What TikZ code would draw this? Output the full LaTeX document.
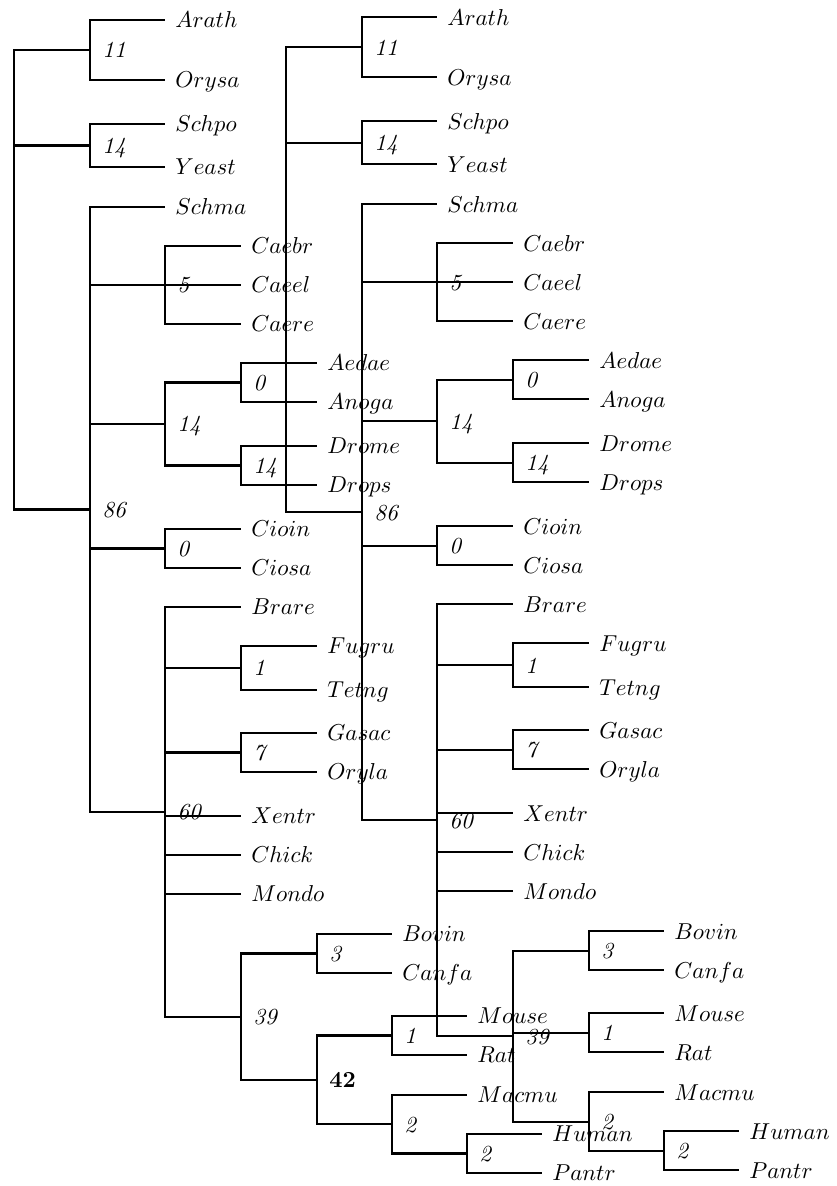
\documentclass[tikz,border=0pt]{standalone}
\tikzset{
  branch/.style={line width=0.9pt},
  tag/.style={anchor=base west, inner sep=0pt, xshift=5.2pt, yshift=-3.4pt},
  taxon/.style={tag, xshift=-0.9pt},
  support/.style={tag, font=\itshape},
}
\begin{document}
\begin{tikzpicture}[x=0.4348pt, y=-0.4348pt]
\useasboundingbox (0,0) rectangle (837,1186);
% inner nodes, first tree
\foreach \n/\x/\y in {root/14/279.5, 11/90/50, 14a/90/145.5, 86/90/509.5, 5/165/285, 14b/165/424,
  0a/241/382.5, 14c/241/465.5, 0b/165/548.5, 60/165/812, 1a/241/668, 7/241/752.5,
  39/241/1016.6, 3/317/953.5, 42/317/1079.8, 1b/392/1035.5, 2a/392/1124.3, 2b/467/1153.5}
  \coordinate (L\n) at (\x,\y);
% inner nodes, second tree
\begin{scope}[shift={(272,-2.7)}]
\foreach \n/\x/\y in {root/14/282.5, 11/90/50, 14a/90/145.5, 86/90/515, 5/165/285, 14b/165/424,
  0a/241/382.5, 14c/241/465.5, 0b/165/548.5, 60/165/823, 1a/241/668, 7/241/752.5,
  39/241/1038.9, 3/317/953.5, 1b/317/1035.5, 2a/317/1124.3, 2b/392/1153.5}
  \coordinate (R\n) at (\x,\y);
\end{scope}
\foreach \t in {L,R}
  \foreach \p/\c in {root/11, root/14a, root/86, 86/5, 86/14b, 86/0b, 86/60, 14b/0a, 14b/14c,
    60/1a, 60/7, 60/39, 39/3, 2a/2b}
    \draw[branch] (\t\p) |- (\t\c);
\foreach \p/\c in {L39/L42, L42/L1b, L42/L2a, R39/R1b, R39/R2a}
  \draw[branch] (\p) |- (\c);
% leaves
\foreach \n/\p/\xl/\xr/\y in {Arath/11/165/165/20, Orysa/11/165/165/80, Schpo/14a/165/165/124,
  Yeast/14a/165/165/167, Schma/86/165/165/207, Caebr/5/241/241/246, Caeel/5/241/241/285,
  Caere/5/241/241/324, Aedae/0a/317/317/363, Anoga/0a/317/317/402, Drome/14c/317/317/446,
  Drops/14c/317/317/485, Cioin/0b/241/241/529, Ciosa/0b/241/241/568, Brare/60/241/241/607,
  Fugru/1a/317/317/646, Tetng/1a/317/317/690, Gasac/7/317/317/733, Oryla/7/317/317/772,
  Xentr/60/241/241/816, Chick/60/241/241/855, Mondo/60/241/241/894, Bovin/3/392/392/934,
  Canfa/3/392/392/973, Mouse/1b/467/392/1016, Rat/1b/467/392/1055, Macmu/2a/467/392/1095,
  Human/2b/542/467/1134, Pantr/2b/542/467/1173}
{
  \coordinate (L\n) at (\xl,\y);
  \coordinate (R\n) at ({\xr+272},{\y-2.7});
  \foreach \t in {L,R} {
    \draw[branch] (\t\p) |- (\t\n);
    \node[taxon] (\t\n-t) at (\t\n) {$\n$};
  }
}
% support values
\foreach \t in {L,R}
  \foreach \n/\s in {11/11, 14a/14, 86/86, 5/5, 14b/14, 0a/0, 14c/14, 0b/0, 60/60, 1a/1, 7/7,
    39/39, 3/3, 1b/1, 2a/2, 2b/2}
    \node[support] (\t\n-s) at (\t\n) {\s};
\node[support, font=\bfseries] (L42-s) at (L42) {42};
\end{tikzpicture}
\end{document}
